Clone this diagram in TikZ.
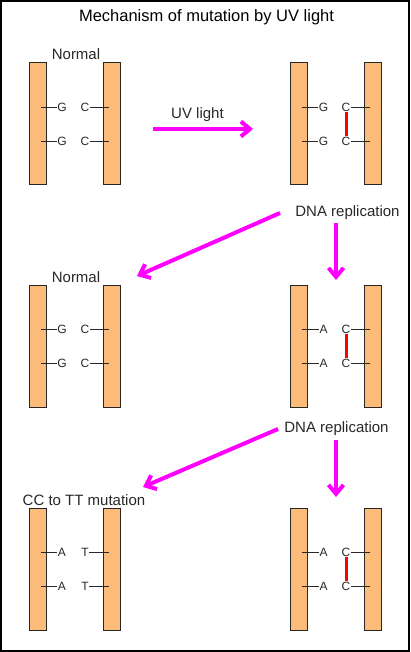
\documentclass[tikz,border=0pt]{standalone}
\usepackage{fontspec}
\setmainfont{Liberation Sans}
\usetikzlibrary{arrows.meta}
\definecolor{strandfill}{RGB}{253,187,121}
\definecolor{ink}{RGB}{40,40,40}
\definecolor{uvpink}{RGB}{255,0,255}
\begin{document}
\begin{tikzpicture} [x = 1pt, y = -1pt,
	strand/.style = {draw = black!85, fill = strandfill, line width = 1pt, minimum width = 17pt, minimum height = 122pt, inner sep = 0pt},
	nucl/.style = {font = \fontsize{12}{12}\selectfont, text = ink, inner sep = 0.5pt},
	stub/.style = {draw = ink, line width = 0.9pt},
	dimer/.style = {draw = red, line width = 3pt},
	flow/.style = {draw = uvpink, line width = 4pt, -{Straight Barb[length = 9pt, width = 15pt]}},
	lbl/.style = {font = \fontsize{15}{15}\selectfont, text = ink, anchor = base}]
	\useasboundingbox (0,0) rectangle (410,652);
	\draw [line width = 1.3pt] (1,1) rectangle (409,651);
	\node [lbl, font = \fontsize{16.5}{16.5}\selectfont, text = black] (title) at (206.5,21.7) {Mechanism of mutation by UV light};
	\node [lbl] (normal1) at (76,60) {Normal};
	\node [lbl] (normal2) at (76,282) {Normal};
	\node [lbl] (cctott) at (84,505) {CC to TT mutation};
	\node [lbl] (uv) at (197.5,119) {UV light};
	\node [lbl] (rep1) at (347.5,216) {DNA replication};
	\node [lbl] (rep2) at (336.5,432.7) {DNA replication};
	\node [strand] (p1l) at (37.5,124) {};
	\node [strand] (p1r) at (111.5,124) {};
	\node [nucl] (p1a) at (62,107) {G};
	\node [nucl] (p1b) at (62,141) {G};
	\node [nucl] (p1c) at (85,107) {C};
	\node [nucl] (p1d) at (85,141) {C};
	\node [strand] (p2l) at (299,124) {};
	\node [strand] (p2r) at (373,124) {};
	\node [nucl] (p2a) at (323.5,107) {G};
	\node [nucl] (p2b) at (323.5,141) {G};
	\node [nucl] (p2c) at (346,107) {C};
	\node [nucl] (p2d) at (346,141) {C};
	\node [strand] (p3l) at (37.5,346) {};
	\node [strand] (p3r) at (111.5,346) {};
	\node [nucl] (p3a) at (62,329) {G};
	\node [nucl] (p3b) at (62,363) {G};
	\node [nucl] (p3c) at (85,329) {C};
	\node [nucl] (p3d) at (85,363) {C};
	\node [strand] (p4l) at (299,346) {};
	\node [strand] (p4r) at (373,346) {};
	\node [nucl] (p4a) at (323.5,329) {A};
	\node [nucl] (p4b) at (323.5,363) {A};
	\node [nucl] (p4c) at (346,329) {C};
	\node [nucl] (p4d) at (346,363) {C};
	\node [strand] (p5l) at (37.5,569) {};
	\node [strand] (p5r) at (111.5,569) {};
	\node [nucl] (p5a) at (62,552) {A};
	\node [nucl] (p5b) at (62,586) {A};
	\node [nucl] (p5c) at (85,552) {T};
	\node [nucl] (p5d) at (85,586) {T};
	\node [strand] (p6l) at (299,569) {};
	\node [strand] (p6r) at (373,569) {};
	\node [nucl] (p6a) at (323.5,552) {A};
	\node [nucl] (p6b) at (323.5,586) {A};
	\node [nucl] (p6c) at (346,552) {C};
	\node [nucl] (p6d) at (346,586) {C};
	\draw [stub] ([xshift = 3pt] p1l.center |- p1a) -- (p1a);
	\draw [stub] ([xshift = 3pt] p1l.center |- p1b) -- (p1b);
	\draw [stub] (p1c) -- ([xshift = -3pt] p1r.center |- p1c);
	\draw [stub] (p1d) -- ([xshift = -3pt] p1r.center |- p1d);
	\draw [stub] ([xshift = 3pt] p2l.center |- p2a) -- (p2a);
	\draw [stub] ([xshift = 3pt] p2l.center |- p2b) -- (p2b);
	\draw [stub] (p2c) -- ([xshift = -3pt] p2r.center |- p2c);
	\draw [stub] (p2d) -- ([xshift = -3pt] p2r.center |- p2d);
	\draw [stub] ([xshift = 3pt] p3l.center |- p3a) -- (p3a);
	\draw [stub] ([xshift = 3pt] p3l.center |- p3b) -- (p3b);
	\draw [stub] (p3c) -- ([xshift = -3pt] p3r.center |- p3c);
	\draw [stub] (p3d) -- ([xshift = -3pt] p3r.center |- p3d);
	\draw [stub] ([xshift = 3pt] p4l.center |- p4a) -- (p4a);
	\draw [stub] ([xshift = 3pt] p4l.center |- p4b) -- (p4b);
	\draw [stub] (p4c) -- ([xshift = -3pt] p4r.center |- p4c);
	\draw [stub] (p4d) -- ([xshift = -3pt] p4r.center |- p4d);
	\draw [stub] ([xshift = 3pt] p5l.center |- p5a) -- (p5a);
	\draw [stub] ([xshift = 3pt] p5l.center |- p5b) -- (p5b);
	\draw [stub] (p5c) -- ([xshift = -3pt] p5r.center |- p5c);
	\draw [stub] (p5d) -- ([xshift = -3pt] p5r.center |- p5d);
	\draw [stub] ([xshift = 3pt] p6l.center |- p6a) -- (p6a);
	\draw [stub] ([xshift = 3pt] p6l.center |- p6b) -- (p6b);
	\draw [stub] (p6c) -- ([xshift = -3pt] p6r.center |- p6c);
	\draw [stub] (p6d) -- ([xshift = -3pt] p6r.center |- p6d);
	\draw [dimer] (p2c) -- (p2d);
	\draw [dimer] (p4c) -- (p4d);
	\draw [dimer] (p6c) -- (p6d);
	\coordinate (uvs) at (153,129);
	\coordinate (uvt) at (253,129);
	\coordinate (r1s) at (280,213);
	\coordinate (r1t) at (137,276);
	\coordinate (d1s) at (336,223);
	\coordinate (d1t) at (336,280);
	\coordinate (r2s) at (278,429);
	\coordinate (r2t) at (143,487);
	\coordinate (d2s) at (336,440);
	\coordinate (d2t) at (336,497);
	\draw [flow] (uvs) -- (uvt);
	\draw [flow] (r1s) -- (r1t);
	\draw [flow] (d1s) -- (d1t);
	\draw [flow] (r2s) -- (r2t);
	\draw [flow] (d2s) -- (d2t);
\end{tikzpicture}
\end{document}
